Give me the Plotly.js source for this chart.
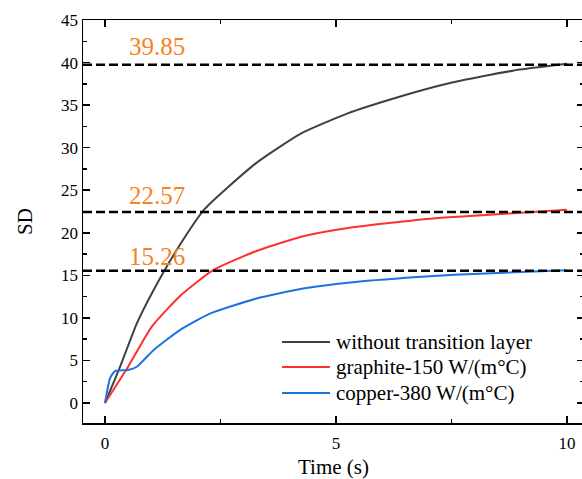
<!DOCTYPE html>
<html>
<head>
<meta charset="utf-8">
<script src="https://cdn.plot.ly/plotly-3.0.1.min.js"></script>
<style>html,body{margin:0;padding:0;overflow:hidden;background:#fff;}#chart{width:584px;height:479px;}</style>
</head>
<body>
<div id="chart"></div>
<script>
// ---- data ----
const seriesNames = ["without transition layer", "graphite-150 W/(m\u00b0C)", "copper-380 W/(m\u00b0C)"];
const tBlack = [0, 0.33, 0.69, 1.05, 1.59, 2.16, 3.25, 4.22, 5.24, 6.32, 7.47, 8.83, 10];
const sdBlack = [0, 4.3, 9.35, 13.25, 18.3, 22.8, 28.1, 31.6, 34.0, 35.9, 37.6, 39.05, 39.85];
const tRed = [0, 0.5, 1.01, 1.62, 2.34, 3.28, 4.29, 5.30, 7.03, 8.83, 10];
const sdRed = [0, 4.26, 8.95, 12.55, 15.6, 17.86, 19.6, 20.6, 21.66, 22.3, 22.7];
const tBlue = [0, 0.108, 0.216, 0.5, 0.69, 1.05, 1.62, 2.27, 3.28, 4.29, 5.37, 7.03, 8.1, 10];
const sdBlue = [0, 2.9, 3.75, 3.87, 4.26, 6.2, 8.56, 10.5, 12.28, 13.45, 14.2, 14.9, 15.2, 15.6];
const refLevels = [39.75, 22.45, 15.55];
const refLabels = ["39.85", "22.57", "15.26"];
const refLabelX = [1.13, 1.12, 1.12];
const refLabelY = [41.9, 24.4, 17.2];
const xTickVals = [0, 5, 10];
const yTickVals = [0, 5, 10, 15, 20, 25, 30, 35, 40, 45];

const colors = ["#404040", "#ff3030", "#1a73e0"];
const FONT = '"Liberation Serif", "Times New Roman", Times, serif';

const traces = [
  {x: tBlack, y: sdBlack, name: seriesNames[0], mode: "lines", line: {color: colors[0], width: 2, shape: "spline", smoothing: 0.5}},
  {x: tRed, y: sdRed, name: seriesNames[1], mode: "lines", line: {color: colors[1], width: 2, shape: "spline", smoothing: 0.5}},
  {x: tBlue, y: sdBlue, name: seriesNames[2], mode: "lines", line: {color: colors[2], width: 2, shape: "spline", smoothing: 0.5}}
];

// plot area geometry (pixels) used to place the legend in paper coordinates
const PL = 83, PW = 501, PT = 20, PH = 403;
const px2x = p => (p - PL) / PW;
const py2y = p => (PT + PH - p) / PH;

const shapes = refLevels.map(v => ({
  type: "line", xref: "paper", x0: 0, x1: 1, yref: "y", y0: v, y1: v,
  line: {color: "#000", width: 2.5, dash: "9px,4px"}, layer: "above"
}));

const annotations = refLabels.map((s, i) => ({
  text: s, x: refLabelX[i], y: refLabelY[i], xref: "x", yref: "y",
  showarrow: false, xanchor: "center", yanchor: "middle",
  font: {family: FONT, size: 25, color: "#f7821e"}
}));

// legend (drawn inside the plot, bottom right)
const legRows = [342, 367, 393];
seriesNames.forEach((nm, i) => {
  shapes.push({type: "line", xref: "paper", yref: "paper",
    x0: px2x(282), x1: px2x(330), y0: py2y(legRows[i]), y1: py2y(legRows[i]),
    line: {color: colors[i], width: 2}});
  annotations.push({text: nm, xref: "paper", yref: "paper",
    x: px2x(334), y: py2y(legRows[i]), xanchor: "left", yanchor: "middle",
    showarrow: false, font: {family: FONT, size: 21, color: "#000"}});
});

const axisCommon = {
  showline: true, linecolor: "#000", linewidth: 1.5, mirror: "ticks",
  ticks: "inside", ticklen: 7, tickwidth: 1.5, tickcolor: "#000",
  showgrid: false, zeroline: false,
  tickfont: {family: FONT, size: 17, color: "#000"},
  minor: {ticks: "inside", ticklen: 4, tickwidth: 1.5, tickcolor: "#000", showgrid: false}
};

const layout = {
  width: 584, height: 479,
  margin: {l: PL, r: 0, t: PT, b: 479 - PT - PH},
  paper_bgcolor: "#fff", plot_bgcolor: "#fff",
  font: {family: FONT, color: "#000"},
  showlegend: false,
  xaxis: Object.assign({}, axisCommon, {
    range: [-0.476, 10.37], tickvals: xTickVals, ticktext: xTickVals.map(String),
    ticklabelstandoff: 4,
    minor: Object.assign({}, axisCommon.minor, {dtick: 2.5, tick0: 0}),
    title: {text: "Time (s)", font: {family: FONT, size: 21, color: "#000"}, standoff: 7}
  }),
  yaxis: Object.assign({}, axisCommon, {
    range: [-2.35, 45], tickvals: yTickVals, ticktext: yTickVals.map(String),
    minor: Object.assign({}, axisCommon.minor, {dtick: 2.5, tick0: 0}),
    title: {text: "SD", font: {family: FONT, size: 21, color: "#000"}, standoff: 22}
  }),
  shapes: shapes,
  annotations: annotations
};

Plotly.newPlot("chart", traces, layout, {displayModeBar: false, staticPlot: true});
</script>
</body>
</html>
